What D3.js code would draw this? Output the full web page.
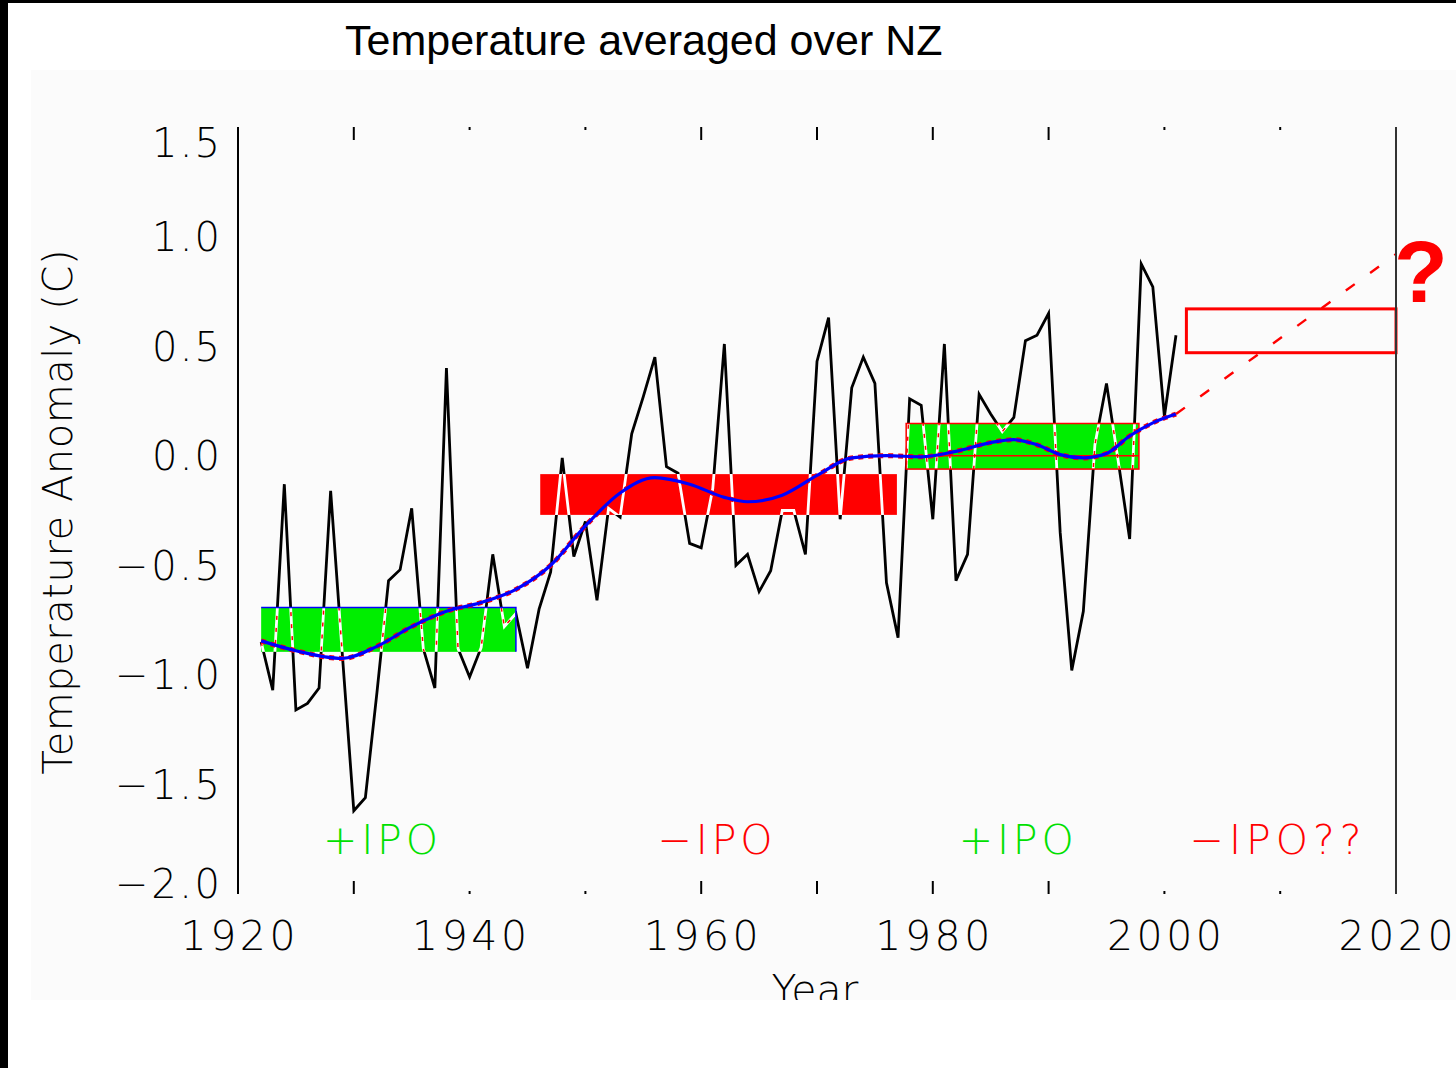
<!DOCTYPE html>
<html>
<head>
<meta charset="utf-8">
<script src="https://cdn.jsdelivr.net/npm/d3@7"></script>
<style>
  body { margin: 0; background: #fff; }
  svg { display: block; }
  .lab { font-family: "DejaVu Sans", sans-serif; font-weight: 200; }
</style>
</head>
<body>
<script>
// Annual NZ temperature anomaly (C)
const years = d3.range(1922, 2002);
const anomaly = [
  -0.85, -1.07, -0.13, -1.16, -1.13, -1.06, -0.16, -0.90, -1.62, -1.56,
  -1.08, -0.57, -0.52, -0.24, -0.88, -1.06, 0.40, -0.88, -1.01, -0.875,
  -0.45, -0.78, -0.72, -0.97, -0.70, -0.53, -0.01, -0.46, -0.30, -0.66,
  -0.24, -0.28, 0.10, 0.27, 0.45, -0.05, -0.08, -0.40, -0.42, -0.15,
  0.51, -0.50, -0.45, -0.62, -0.525, -0.25, -0.25, -0.45, 0.43, 0.63,
  -0.29, 0.31, 0.45, 0.33, -0.58, -0.83, 0.26, 0.23, -0.29, 0.51,
  -0.57, -0.45, 0.28, 0.19, 0.11, 0.175, 0.525, 0.55, 0.65, -0.35,
  -0.98, -0.71, 0.05, 0.33, -0.02, -0.38, 0.875, 0.77, 0.18, 0.55
];

// Smoothed curve
const smoothYears = [1922, 1925, 1929, 1932, 1935, 1938, 1941, 1944, 1947, 1950, 1953, 1956, 1959, 1962, 1964,
  1967, 1970, 1973, 1976, 1979, 1982, 1985, 1987, 1989, 1991, 1993, 1995, 1997, 1999, 2001];
const smoothValues = [-0.845, -0.89, -0.925, -0.87, -0.78, -0.71, -0.67, -0.61, -0.50, -0.32, -0.17, -0.10, -0.13, -0.19, -0.21,
  -0.18, -0.09, -0.01, 0.0, -0.005, 0.02, 0.06, 0.073, 0.05, 0.005, -0.01, 0.01, 0.09, 0.15, 0.19];

// Projection (dashed)
const projYears = [2001, 2020];
const projValues = [0.19, 0.92];

// IPO phase boxes
const boxStart = [1922, 1946.1, 1977.7, 2001.9];
const boxEnd = [1944, 1976.9, 1997.8, 2020];
const boxLow = [-0.895, -0.27, -0.061, 0.47];
const boxHigh = [-0.693, -0.084, 0.147, 0.67];
const boxKind = ["plus", "minus", "plus2", "future"];

// IPO labels
const ipoLabels = ["+IPO", "−IPO", "+IPO", "−IPO??"];
const ipoYears = [1932.3, 1961.2, 1987.2, 2009.6];
const ipoColors = ["#00e000", "#ff0000", "#00e000", "#ff0000"];

// Axis ticks
const yTicks = [1.5, 1.0, 0.5, 0.0, -0.5, -1.0, -1.5, -2.0];
const xLabels = [1920, 1940, 1960, 1980, 2000, 2020];
const majorTickYears = [1930, 1960, 1970, 1980, 1990];
const minorTickYears = [1940, 1950, 2000, 2010];

const W = 1456, H = 1068;

const svg = d3.select("body").append("svg")
  .attr("width", W)
  .attr("height", H);

// Frame / background
svg.append("rect").attr("x", 0).attr("y", 0).attr("width", W).attr("height", H).attr("fill", "#fff");
svg.append("rect").attr("x", 31).attr("y", 70).attr("width", W - 31).attr("height", 930).attr("fill", "#fbfbfb");
svg.append("rect").attr("x", 0).attr("y", 0).attr("width", 8).attr("height", H).attr("fill", "#000");
svg.append("rect").attr("x", 0).attr("y", 0).attr("width", W).attr("height", 3).attr("fill", "#000");

// Scales
const x = d3.scaleLinear().domain([1920, 2020]).range([238, 1396]);
const y = d3.scaleLinear().domain([-2, 1.5]).range([894, 127]);

// Title
svg.append("text")
  .attr("x", 345).attr("y", 55)
  .style("font-family", "'Liberation Sans', Arial, sans-serif")
  .style("font-size", "43px")
  .text("Temperature averaged over NZ");

const defs = svg.append("defs");

// Black annual line
const line = d3.line().x((d, i) => x(years[i])).y(d => y(d));
svg.append("path")
  .datum(anomaly)
  .attr("d", line)
  .attr("fill", "none")
  .attr("stroke", "#000")
  .attr("stroke-width", 2.8);

// Boxes
boxStart.forEach((s, i) => {
  const bx = x(s), bw = x(boxEnd[i]) - x(s);
  const by = y(boxHigh[i]), bh = y(boxLow[i]) - y(boxHigh[i]);
  if (boxKind[i] === "future") {
    svg.append("rect").attr("x", bx).attr("y", by).attr("width", bw).attr("height", bh)
      .attr("fill", "none").attr("stroke", "#ff0000").attr("stroke-width", 3);
    return;
  }
  const fill = boxKind[i] === "minus" ? "#ff0000" : "#00ee00";
  svg.append("rect").attr("x", bx).attr("y", by).attr("width", bw).attr("height", bh).attr("fill", fill);

  // where the line crosses a box it shows through as white
  defs.append("clipPath").attr("id", "clip" + i)
    .append("rect").attr("x", bx).attr("y", by).attr("width", bw).attr("height", bh);
  svg.append("path").datum(anomaly).attr("d", line)
    .attr("fill", "none").attr("stroke", "#fff").attr("stroke-width", 2.8)
    .attr("clip-path", `url(#clip${i})`);
  if (boxKind[i] !== "minus") {
    svg.append("path").datum(anomaly).attr("d", line)
      .attr("fill", "none").attr("stroke", "#ff0000").attr("stroke-width", 1.5)
      .attr("stroke-dasharray", "4,8")
      .attr("clip-path", `url(#clip${i})`);
  }

  if (boxKind[i] === "plus") {
    svg.append("path")
      .attr("d", `M${bx},${by}H${bx + bw}V${by + bh}`)
      .attr("fill", "none").attr("stroke", "#0000ff").attr("stroke-width", 1.5);
  }
  if (boxKind[i] === "plus2") {
    svg.append("rect").attr("x", bx).attr("y", by).attr("width", bw).attr("height", bh)
      .attr("fill", "none").attr("stroke", "#ff0000").attr("stroke-width", 1.5);
    svg.append("line").attr("x1", bx).attr("x2", bx + bw).attr("y1", y(0)).attr("y2", y(0))
      .attr("stroke", "#ff0000").attr("stroke-width", 1.5);
  }
});

// Smooth curve: red dashed under blue
const smoothLine = d3.line()
  .x((d, i) => x(smoothYears[i]))
  .y(d => y(d))
  .curve(d3.curveMonotoneX);
svg.append("path").datum(smoothValues).attr("d", smoothLine)
  .attr("fill", "none").attr("stroke", "#ff0000").attr("stroke-width", 5)
  .attr("stroke-dasharray", "5,5");
svg.append("path").datum(smoothValues).attr("d", smoothLine)
  .attr("fill", "none").attr("stroke", "#0000ff").attr("stroke-width", 3.2);

// Dashed projection
svg.append("path")
  .datum(projValues)
  .attr("d", d3.line().x((d, i) => x(projYears[i])).y(d => y(d)))
  .attr("fill", "none").attr("stroke", "#ff0000").attr("stroke-width", 2.4)
  .attr("stroke-dasharray", "11,19");

// Axis lines
svg.append("line").attr("x1", x(1920)).attr("x2", x(1920)).attr("y1", y(1.5)).attr("y2", y(-2))
  .attr("stroke", "#000").attr("stroke-width", 2);
svg.append("line").attr("x1", x(2020)).attr("x2", x(2020)).attr("y1", y(1.5)).attr("y2", y(-2))
  .attr("stroke", "#333").attr("stroke-width", 2);

// Ticks top and bottom
majorTickYears.forEach(t => {
  svg.append("line").attr("x1", x(t)).attr("x2", x(t)).attr("y1", y(1.5)).attr("y2", y(1.5) + 13)
    .attr("stroke", "#000").attr("stroke-width", 2);
  svg.append("line").attr("x1", x(t)).attr("x2", x(t)).attr("y1", y(-2)).attr("y2", y(-2) - 13)
    .attr("stroke", "#000").attr("stroke-width", 2);
});
minorTickYears.forEach(t => {
  svg.append("line").attr("x1", x(t)).attr("x2", x(t)).attr("y1", y(1.5)).attr("y2", y(1.5) + 3)
    .attr("stroke", "#000").attr("stroke-width", 2);
  svg.append("line").attr("x1", x(t)).attr("x2", x(t)).attr("y1", y(-2)).attr("y2", y(-2) - 3)
    .attr("stroke", "#000").attr("stroke-width", 2);
});

// Y tick labels (end ones pulled inside the frame)
yTicks.forEach(v => {
  const label = (v < 0 ? "−" : "") + Math.abs(v).toFixed(1);
  const yy = Math.min(Math.max(y(v), y(1.5) + 16), y(-2) - 10);
  svg.append("text").attr("class", "lab")
    .attr("x", 220).attr("y", yy)
    .attr("dy", "0.36em")
    .attr("text-anchor", "end")
    .attr("textLength", v < 0 ? 105 : 68)
    .attr("lengthAdjust", "spacing")
    .style("font-size", "40px")
    .text(label);
});

// X tick labels
xLabels.forEach(t => {
  svg.append("text").attr("class", "lab")
    .attr("x", x(t)).attr("y", 950)
    .attr("text-anchor", "middle")
    .attr("textLength", 115)
    .attr("lengthAdjust", "spacing")
    .style("font-size", "41px")
    .text(t);
});

// Axis titles
defs.append("clipPath").attr("id", "bottomClip")
  .append("rect").attr("x", 0).attr("y", 0).attr("width", W).attr("height", 1000);
svg.append("text").attr("class", "lab")
  .attr("x", 815).attr("y", 1004)
  .attr("text-anchor", "middle")
  .attr("clip-path", "url(#bottomClip)")
  .style("font-size", "41px")
  .text("Year");

svg.append("text").attr("class", "lab")
  .attr("transform", "translate(72,512) rotate(-90)")
  .attr("text-anchor", "middle")
  .attr("textLength", 525)
  .attr("lengthAdjust", "spacing")
  .style("font-size", "40px")
  .text("Temperature Anomaly (C)");

// IPO labels
ipoLabels.forEach((t, i) => {
  svg.append("text").attr("class", "lab")
    .attr("x", x(ipoYears[i])).attr("y", y(-1.75))
    .attr("dy", "0.36em")
    .attr("text-anchor", "middle")
    .attr("textLength", t.length > 4 ? 172 : 115)
    .attr("lengthAdjust", "spacing")
    .style("font-size", "41px")
    .style("fill", ipoColors[i])
    .text(t);
});

// Big question mark
svg.append("text")
  .attr("x", 1421).attr("y", 302)
  .attr("text-anchor", "middle")
  .style("font-family", "'Liberation Sans', Arial, sans-serif")
  .style("font-weight", "bold")
  .style("font-size", "88px")
  .style("fill", "#ff0000")
  .text("?");
</script>
</body>
</html>
